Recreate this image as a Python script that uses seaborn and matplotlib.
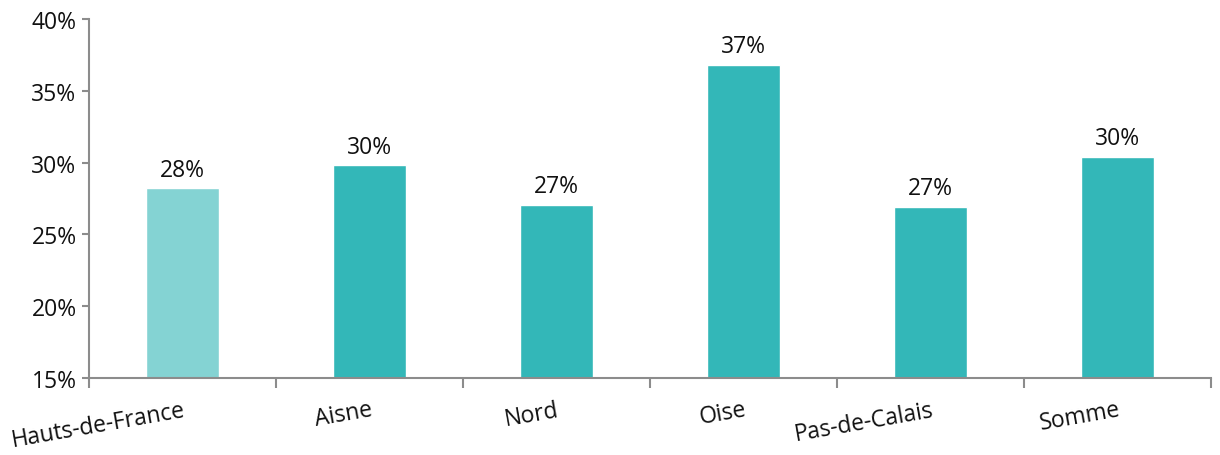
import numpy as np
import pandas as pd
import matplotlib
matplotlib.use("Agg")
import matplotlib.pyplot as plt
import seaborn as sns
from matplotlib.ticker import FixedLocator, FuncFormatter

# Data
departements = ["Hauts-de-France", "Aisne", "Nord", "Oise", "Pas-de-Calais", "Somme"]
parts = [28.2, 29.8, 27.05, 36.8, 26.9, 30.4]
couleurs = ["#84D3D3", "#33B7B8", "#33B7B8", "#33B7B8", "#33B7B8", "#33B7B8"]

sns.set_style("white")
plt.rcParams['font.family'] = ['Open Sans', 'DejaVu Sans']
plt.rcParams['font.size'] = 16.5

df = pd.DataFrame({"Departement": departements, "Part": parts})

fig = plt.figure(figsize=(12.2, 4.56), dpi=100)
ax = fig.add_axes([0.073, 0.169, 0.920, 0.787])

sns.barplot(data=df, x="Departement", y="Part", hue="Departement",
            palette=couleurs, width=0.39, legend=False, ax=ax,
            saturation=1)

ax.set_ylim(15, 40)
ax.set_xlim(-0.5, len(departements) - 0.5)
ax.set_yticks(np.arange(15, 41, 5))
ax.yaxis.set_major_formatter(FuncFormatter(lambda v, p: f"{v:.0f}%"))
ax.set_xlabel("")
ax.set_ylabel("")

# value labels above bars
for container in ax.containers:
    ax.bar_label(container, labels=[f"{v:.0f}%" for v in container.datavalues],
                 padding=5, fontsize=16.5, color="#111111")

# x axis: ticks between categories, labels slightly rotated
ax.xaxis.set_minor_locator(FixedLocator(np.arange(-0.5, len(departements), 1.0)))
ax.tick_params(axis="x", which="major", length=0, pad=14, labelsize=16.5,
               labelcolor="#111111")
ax.tick_params(axis="x", which="minor", bottom=True, length=7, width=1.5,
               color="#8c8c8c", direction="out")
ax.tick_params(axis="y", which="major", left=True, length=5, width=1.5,
               color="#8c8c8c", direction="out", labelsize=16.5,
               labelcolor="#111111", pad=4)
for lab in ax.get_xticklabels():
    lab.set_rotation(10)
    lab.set_ha("right")
    lab.set_rotation_mode("anchor")

sns.despine(ax=ax)
for side in ["left", "bottom"]:
    ax.spines[side].set_color("#8c8c8c")
    ax.spines[side].set_linewidth(1.5)

fig.savefig("out.png", dpi=100)
plt.close(fig)
